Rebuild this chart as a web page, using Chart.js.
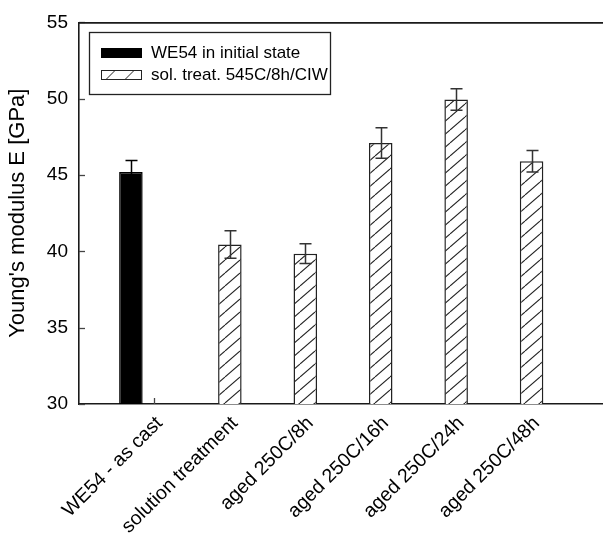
<!DOCTYPE html>
<html>
<head>
<meta charset="utf-8">
<script src="https://cdn.jsdelivr.net/npm/chart.js@4/dist/chart.umd.min.js"></script>
<style>
  html, body { margin: 0; padding: 0; background: #fff; overflow: hidden; }
  canvas { display: block; }
</style>
</head>
<body>
<canvas id="c" width="607" height="537"></canvas>
<script>
// Sample groups along the x axis
const categories = ['WE54 - as cast', 'solution treatment', 'aged 250C/8h',
                    'aged 250C/16h', 'aged 250C/24h', 'aged 250C/48h'];
// Young's modulus [GPa] and its spread, per group
const asCastModulus  = [45.2, null, null, null, null, null];
const asCastError    = [0.75, null, null, null, null, null];
const treatedModulus = [null, 40.45, 39.85, 47.1, 49.95, 45.9];
const treatedError   = [null, 0.9, 0.65, 1.0, 0.7, 0.7];
// Value axis
const yMin = 30, yMax = 55, yStep = 5;
const seriesNames = ['WE54 in initial state', 'sol. treat. 545C/8h/CIW'];

const FONT = "'Liberation Sans', Arial, sans-serif";
const INK = '#1a1a1a';

// blank slots at both ends give the axis room left and right of the groups
const pad = arr => [null, ...arr, null];
const labels = ['', ...categories, ''];

// diagonal "/" hatch used by the heat-treated series
function makeHatch() {
  const w = 15, h = 13;
  const t = document.createElement('canvas');
  t.width = w; t.height = h;
  const g = t.getContext('2d');
  g.fillStyle = '#fff';
  g.fillRect(0, 0, w, h);
  g.strokeStyle = '#222';
  g.lineWidth = 1.1;
  for (const dx of [-w, 0, w]) {
    g.beginPath();
    g.moveTo(dx, h);
    g.lineTo(dx + w, 0);
    g.stroke();
  }
  return g.createPattern(t, 'repeat');
}
const hatch = makeHatch();

// inward tick marks and the top frame line, drawn under the bars
const innerTicks = {
  id: 'innerTicks',
  beforeDatasetsDraw(chart) {
    const { ctx, chartArea: a } = chart;
    const xs = chart.scales.x, ys = chart.scales.y;
    ctx.save();
    ctx.strokeStyle = '#444';
    ctx.lineWidth = 1.3;
    ys.ticks.forEach(t => {
      const y = Math.round(ys.getPixelForValue(t.value)) + 0.5;
      ctx.beginPath(); ctx.moveTo(a.left, y); ctx.lineTo(a.left + 6, y); ctx.stroke();
    });
    for (let i = 1; i <= categories.length; i++) {
      const x = Math.round(xs.getPixelForTick(i)) + 0.5;
      ctx.beginPath(); ctx.moveTo(x, a.bottom); ctx.lineTo(x, a.bottom - 6); ctx.stroke();
    }
    ctx.strokeStyle = INK;
    ctx.lineWidth = 1.6;
    ctx.beginPath(); ctx.moveTo(a.left, a.top + 0.5); ctx.lineTo(a.right, a.top + 0.5); ctx.stroke();
    ctx.restore();
  }
};

// error bars from the spread arrays
const errorBars = {
  id: 'errorBars',
  afterDatasetsDraw(chart) {
    const { ctx } = chart;
    const ys = chart.scales.y;
    const spreads = [pad(asCastError), pad(treatedError)];
    ctx.save();
    ctx.lineWidth = 1.5;
    spreads.forEach((err, di) => {
      const meta = chart.getDatasetMeta(di);
      const vals = chart.data.datasets[di].data;
      ctx.strokeStyle = di === 0 ? '#000' : '#333';
      meta.data.forEach((el, i) => {
        if (vals[i] == null || err[i] == null) return;
        const x = Math.round(el.x) + 0.5;
        const top = ys.getPixelForValue(vals[i] + err[i]);
        const bot = ys.getPixelForValue(vals[i] - err[i]);
        ctx.beginPath();
        ctx.moveTo(x, top); ctx.lineTo(x, bot);
        ctx.moveTo(x - 6, top); ctx.lineTo(x + 6, top);
        ctx.moveTo(x - 6, bot); ctx.lineTo(x + 6, bot);
        ctx.stroke();
      });
    });
    ctx.restore();
  }
};

// boxed legend in the upper left of the plot
const boxLegend = {
  id: 'boxLegend',
  afterDraw(chart) {
    const { ctx } = chart;
    ctx.save();
    ctx.strokeStyle = '#222';
    ctx.lineWidth = 1.3;
    ctx.strokeRect(89.5, 32.5, 241, 62);
    ctx.fillStyle = '#000';
    ctx.fillRect(101, 48, 41, 10);
    ctx.lineWidth = 1;
    ctx.strokeRect(101.5, 70.5, 40, 9);
    ctx.beginPath();
    ctx.moveTo(106, 79.5); ctx.lineTo(115, 70.5);
    ctx.moveTo(125, 79.5); ctx.lineTo(134, 70.5);
    ctx.stroke();
    ctx.fillStyle = '#000';
    ctx.font = '17px ' + FONT;
    ctx.textBaseline = 'middle';
    ctx.textAlign = 'left';
    ctx.fillText(seriesNames[0], 151, 53.5);
    ctx.fillText(seriesNames[1], 151, 75.5);
    ctx.restore();
  }
};

new Chart(document.getElementById('c'), {
  type: 'bar',
  data: {
    labels,
    datasets: [
      {
        label: seriesNames[0],
        data: pad(asCastModulus),
        backgroundColor: '#000',
        borderColor: '#000',
        borderWidth: 1.5
      },
      {
        label: seriesNames[1],
        data: pad(treatedModulus),
        backgroundColor: hatch,
        borderColor: '#222',
        borderWidth: 1.5
      },
      {
        // empty companion slot so the hatched bars sit on the group centre
        label: '',
        data: labels.map(() => null)
      }
    ]
  },
  options: {
    responsive: false,
    animation: false,
    layout: { padding: { top: 22, left: 0, right: 0, bottom: 0 } },
    datasets: { bar: { categoryPercentage: 0.936, barPercentage: 1.0 } },
    plugins: {
      legend: { display: false },
      tooltip: { enabled: false }
    },
    scales: {
      x: {
        type: 'category',
        offset: false,
        grid: { display: false, drawTicks: false },
        border: { display: true, color: INK, width: 1.6 },
        ticks: {
          autoSkip: false,
          minRotation: 45,
          maxRotation: 45,
          padding: 8,
          labelOffset: 5,
          color: '#000',
          font: { family: FONT, size: 19.5 }
        },
        afterFit(s) { s.height = 133; s.paddingLeft = 0; s.paddingRight = 0; }
      },
      y: {
        min: yMin,
        max: yMax,
        grid: { display: false, drawTicks: false },
        border: { display: true, color: INK, width: 1.6 },
        ticks: {
          stepSize: yStep,
          padding: 11,
          color: '#000',
          font: { family: FONT, size: 19 }
        },
        title: {
          display: true,
          text: "Young's modulus E [GPa]",
          color: '#000',
          font: { family: FONT, size: 22 },
          padding: { top: 5, bottom: 0 }
        },
        afterFit(s) { s.width = 79; }
      }
    }
  },
  plugins: [innerTicks, errorBars, boxLegend]
});
</script>
</body>
</html>
